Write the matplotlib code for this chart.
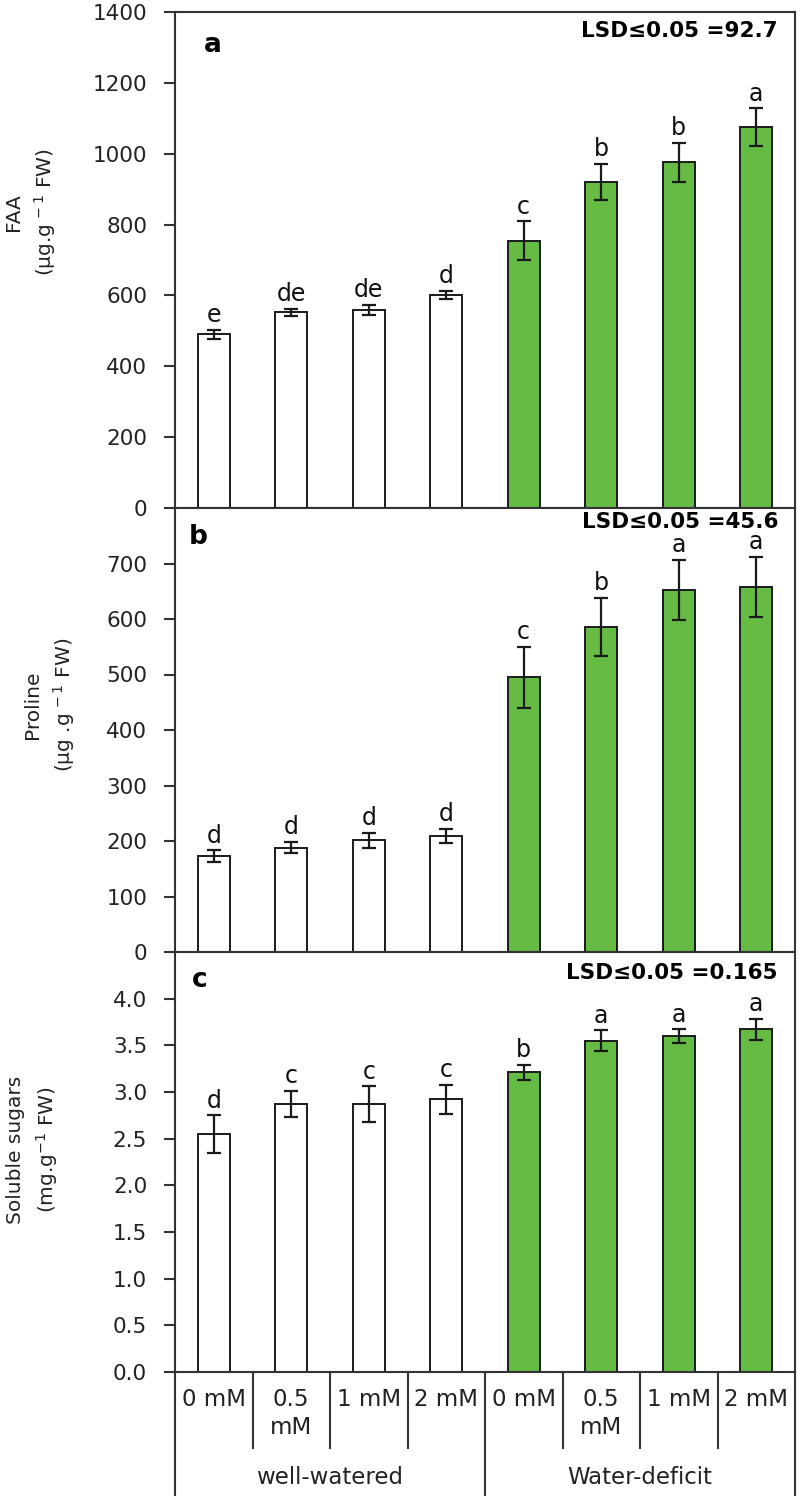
import numpy as np
import matplotlib.pyplot as plt
import matplotlib.transforms as mtransforms

plt.rcParams["font.family"] = ["DejaVu Sans"]

# DATA
doses  = ["0 mM", "0.5\nmM", "1 mM", "2 mM", "0 mM", "0.5\nmM", "1 mM", "2 mM"]
groups = ["well-watered", "Water-deficit"]

faa         = [490, 553, 560, 601, 754, 920, 976, 1075]
faa_err     = [12, 10, 14, 12, 55, 52, 55, 53]
faa_letters = ["e", "de", "de", "d", "c", "b", "b", "a"]

proline         = [173, 188, 201, 209, 495, 586, 653, 658]
proline_err     = [10, 10, 14, 13, 55, 52, 54, 54]
proline_letters = ["d", "d", "d", "d", "c", "b", "a", "a"]

sugars         = [2.55, 2.87, 2.87, 2.92, 3.21, 3.55, 3.60, 3.67]
sugars_err     = [0.20, 0.14, 0.19, 0.16, 0.08, 0.11, 0.07, 0.11]
sugars_letters = ["d", "c", "c", "c", "b", "a", "a", "a"]

lsd = ["LSD\u22640.05 =92.7", "LSD\u22640.05 =45.6", "LSD\u22640.05 =0.165"]

# STYLE
GREEN = "#66BB44"
EDGE  = "#1a1a1a"
SPINE = "#333333"
W, H = 800, 1500

def fy(px):
    # pixel row -> figure fraction
    return 1 - px / H

fig = plt.figure(figsize=(8, 15), dpi=100)

# axes boxes in pixels: (top, bottom)
boxes = [(12, 508), (508, 952), (952, 1372)]
left_px, right_px = 175, 795

panels = [
    dict(vals=faa, err=faa_err, let=faa_letters, ylim=(0, 1400),
         ticks=np.arange(0, 1401, 200), fmt="{:.0f}", tag="a",
         ylabel="FAA\n(µg.g$^{\\,-1}$ FW)", lab_xy=(31, 212),
         tag_xy=(213, 45), lsd_y=31),
    dict(vals=proline, err=proline_err, let=proline_letters, ylim=(0, 800),
         ticks=np.arange(0, 701, 100), fmt="{:.0f}", tag="b",
         ylabel="Proline\n(µg .g$^{\\,-1}$ FW)", lab_xy=(50, 705),
         tag_xy=(198, 537), lsd_y=522),
    dict(vals=sugars, err=sugars_err, let=sugars_letters, ylim=(0, 4.5),
         ticks=np.arange(0, 4.01, 0.5), fmt="{:.1f}", tag="c",
         ylabel="Soluble sugars\n(mg.g$^{-1}$ FW)", lab_xy=(33, 1150),
         tag_xy=(200, 980), lsd_y=973),
]

x = np.arange(len(doses))
colors = ["white"] * 4 + [GREEN] * 4

axes = []
for (top, bot), p in zip(boxes, panels):
    ax = fig.add_axes([left_px / W, fy(bot), (right_px - left_px) / W, (bot - top) / H])
    ax.bar(x, p["vals"], 0.41, color=colors, edgecolor=EDGE, linewidth=1.4, zorder=2)
    ax.errorbar(x, p["vals"], yerr=p["err"], fmt="none", ecolor=EDGE,
                elinewidth=1.6, capsize=5, capthick=1.6, zorder=3)
    for xi, v, e, l in zip(x, p["vals"], p["err"], p["let"]):
        ax.annotate(l, (xi, v + e), xytext=(0, 2), textcoords="offset points",
                    ha="center", va="bottom", fontsize=17, color="#111111")
    ax.set_xlim(-0.5, 7.5)
    ax.set_ylim(*p["ylim"])
    ax.set_yticks(p["ticks"])
    ax.set_yticklabels([p["fmt"].format(t) for t in p["ticks"]])
    ax.set_xticks([])
    ax.tick_params(axis="y", direction="out", length=8, width=1.5,
                   color=SPINE, labelsize=15.5, pad=12, labelcolor="#222222")
    for s in ax.spines.values():
        s.set_color(SPINE)
        s.set_linewidth(1.5)
    fig.text(p["tag_xy"][0] / W, fy(p["tag_xy"][1]), p["tag"], fontsize=19,
             fontweight="bold", ha="center", va="center")
    fig.text(778 / W, fy(p["lsd_y"]), lsd[len(axes)], fontsize=15.5,
             fontweight="bold", ha="right", va="center")
    fig.text(p["lab_xy"][0] / W, fy(p["lab_xy"][1]), p["ylabel"], rotation=90,
             ha="center", va="center", multialignment="center",
             fontsize=14.5, linespacing=1.45, color="#222222")
    axes.append(ax)

# category table under the last panel
ax = axes[-1]
trans = mtransforms.blended_transform_factory(ax.transData, fig.transFigure)
ax_bot = fy(1372)
for xi, lab in zip(x, doses):
    ax.text(xi, fy(1388), lab, transform=trans, ha="center", va="top",
            fontsize=16.5, linespacing=1.3, color="#222222")
for xs in [0.5, 1.5, 2.5, 4.5, 5.5, 6.5]:
    ax.plot([xs, xs], [ax_bot, fy(1448)], transform=trans, color=SPINE,
            lw=1.5, clip_on=False)
for xs in [-0.5, 3.5, 7.5]:
    ax.plot([xs, xs], [ax_bot, fy(1495)], transform=trans, color=SPINE,
            lw=1.5, clip_on=False)
for gx, g in zip([1.5, 5.5], groups):
    ax.text(gx, fy(1478), g, transform=trans, ha="center", va="center",
            fontsize=16.5, color="#222222")

fig.savefig("out.png", dpi=100)
